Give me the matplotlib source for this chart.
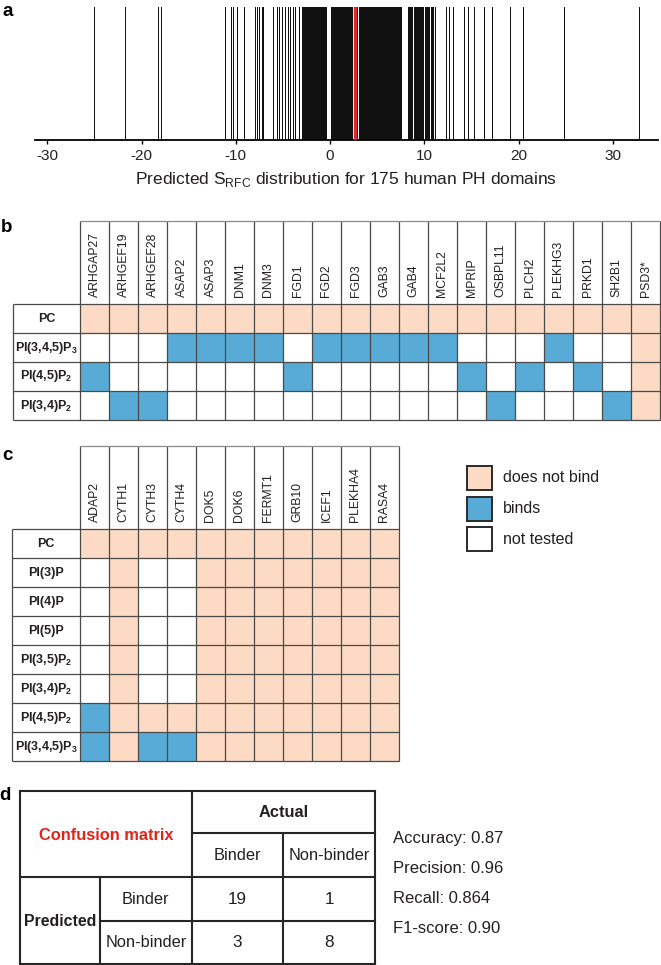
import numpy as np
import matplotlib
matplotlib.use('Agg')
import matplotlib.pyplot as plt
from matplotlib.colors import ListedColormap
from matplotlib.patches import Rectangle

plt.rcParams['font.family'] = 'Liberation Sans'
plt.rcParams['mathtext.fontset'] = 'custom'
plt.rcParams['mathtext.rm'] = 'Liberation Sans'
plt.rcParams['mathtext.bf'] = 'Liberation Sans:bold'

# ---------------------------------------------------------------- data
# panel a: predicted S_RFC for 175 human PH domains
s_rfc = [
    -25.0, -21.8, -18.2, -17.95, -11.1, -10.5, -10.3, -9.85, -9.13,
    -7.93, -7.79, -7.57, -7.22, -7.08, -6.09, -5.6, -5.38, -5.1, -4.74,
    -4.46, -4.25, -3.96, -3.68, -3.33,
    -2.95, -2.90, -2.84, -2.78, -2.66, -2.60, -2.55, -2.47, -2.38, -2.30,
    -2.25, -2.19, -2.11, -2.02, -1.97, -1.93, -1.85, -1.79, -1.74, -1.66,
    -1.58, -1.52, -1.47, -1.39, -1.31, -1.22, -1.17, -1.12, -1.04, -0.95,
    -0.90, -0.86, -0.77, -0.68, -0.63, -0.58, -0.49, -0.45, -0.41,
    0.12, 0.22, 0.35, 0.45, 0.52, 0.62, 0.71, 0.86, 0.94, 1.02, 1.18, 1.27,
    1.37, 1.46, 1.55, 1.68, 1.76, 1.84, 1.94, 2.03, 2.12, 2.21, 2.30, 2.38,
    2.72, 2.91, 3.06, 3.18, 3.29, 3.41, 3.45, 3.52, 3.63, 3.71, 3.82, 3.93,
    4.01, 4.12, 4.23, 4.31, 4.42, 4.50, 4.61, 4.70, 4.79, 4.88, 4.97, 5.06,
    5.15, 5.24, 5.32, 5.41, 5.50, 5.58, 5.67, 5.76, 5.84, 5.93, 6.02, 6.10,
    6.19, 6.28, 6.36, 6.45, 6.53, 6.62, 6.71, 6.80, 6.88, 6.97, 7.06, 7.15,
    7.24, 7.33, 7.42, 7.55,
    8.32, 8.41, 8.50, 8.63, 8.74, 8.86, 8.97, 9.08, 9.19, 9.31, 9.42, 9.55,
    9.66, 9.78, 9.91, 10.04, 10.16, 10.29, 10.41, 10.55, 10.68, 10.82,
    10.96, 11.15,
    12.3, 12.67, 13.0, 14.2, 14.6, 15.3, 16.35, 17.2, 19.1, 20.5, 24.8, 32.8,
]
threshold = 2.6
a_ticks = [-30, -20, -10, 0, 10, 20, 30]

# panel b / c: 'n' = does not bind, 'b' = binds, '.' = not tested
b_proteins = ['ARHGAP27', 'ARHGEF19', 'ARHGEF28', 'ASAP2', 'ASAP3', 'DNM1',
              'DNM3', 'FGD1', 'FGD2', 'FGD3', 'GAB3', 'GAB4', 'MCF2L2',
              'MPRIP', 'OSBPL11', 'PLCH2', 'PLEKHG3', 'PRKD1', 'SH2B1', 'PSD3*']
b_lipids = ['PC', r'$\mathregular{PI(3{,}4{,}5)P_3}$',
            r'$\mathregular{PI(4{,}5)P_2}$', r'$\mathregular{PI(3{,}4)P_2}$']
b_binding = ['nnnnnnnnnnnnnnnnnnnn',
             '...bbbb.bbbbb...b..n',
             'b......b.....b.b.b.n',
             '.bb...........b...bn']

c_proteins = ['ADAP2', 'CYTH1', 'CYTH3', 'CYTH4', 'DOK5', 'DOK6', 'FERMT1',
              'GRB10', 'ICEF1', 'PLEKHA4', 'RASA4']
c_lipids = ['PC', 'PI(3)P', 'PI(4)P', 'PI(5)P',
            r'$\mathregular{PI(3{,}5)P_2}$', r'$\mathregular{PI(3{,}4)P_2}$',
            r'$\mathregular{PI(4{,}5)P_2}$', r'$\mathregular{PI(3{,}4{,}5)P_3}$']
c_binding = ['nnnnnnnnnnn',
             '.n..nnnnnnn',
             '.n..nnnnnnn',
             '.n..nnnnnnn',
             '.n..nnnnnnn',
             '.n..nnnnnnn',
             'bnnnnnnnnnn',
             'bnbbnnnnnnn']

legend_labels = ['does not bind', 'binds', 'not tested']

# panel d
cm_classes = ['Binder', 'Non-binder']
cm_counts = [[19, 1],
             [3, 8]]
metrics = ['Accuracy: 0.87', 'Precision: 0.96', 'Recall: 0.864', 'F1-score: 0.90']

# ---------------------------------------------------------------- style
PEACH = '#fcdac3'
BLUE = '#59abd7'
TXT = '#231f20'
GRID = '#4a4a4a'
code_idx = {'n': 0, 'b': 1, '.': 2}
cmap = ListedColormap([PEACH, BLUE, 'white'])

W, H = 661, 965
fig = plt.figure(figsize=(W / 100, H / 100), dpi=100)


def px_axes(left, top, right, bottom):
    return fig.add_axes([left / W, 1 - bottom / H, (right - left) / W, (bottom - top) / H])


# ---------------------------------------------------------------- panel a
ax = px_axes(35, 6.7, 658, 140)
ax.vlines(s_rfc, 0, 1, transform=ax.get_xaxis_transform(), color='#111111',
          lw=0.72, antialiased=False)
ax.axvline(threshold, color='#e3262b', lw=2.4, zorder=3)
ax.set_xlim(-31.3, 34.8)
ax.set_ylim(0, 1)
for s in ['left', 'right', 'top']:
    ax.spines[s].set_visible(False)
ax.spines['bottom'].set_linewidth(1.3)
ax.set_yticks([])
ax.set_xticks(a_ticks)
ax.set_xticklabels([str(t) for t in a_ticks], fontsize=11, color=TXT)
ax.tick_params(axis='x', length=3, width=1, pad=3.5)
ax.set_xlabel(r'Predicted S$_\mathregular{RFC}$ distribution for 175 human PH domains',
              fontsize=12.5, color=TXT, labelpad=5)


# ---------------------------------------------------------------- panels b, c
def binding_table(box, proteins, lipids, binding):
    cell = 29.0
    left, top, right, bottom = box
    ncol, nrow = len(proteins), len(lipids)
    rw = (right - left - ncol * cell) / cell
    hh = (bottom - top - nrow * cell) / cell
    t = px_axes(left, top, right, bottom)
    t.set_xlim(-rw, ncol)
    t.set_ylim(nrow, -hh)
    t.axis('off')
    vals = np.array([[code_idx[c] for c in row] for row in binding])
    t.pcolormesh(np.arange(ncol + 1), np.arange(nrow + 1), vals, cmap=cmap,
                 vmin=0, vmax=2)
    kw = dict(color=GRID, lw=0.9, clip_on=False)
    t.vlines(np.arange(ncol + 1), -hh, nrow, **kw)
    t.vlines([-rw], 0, nrow, **kw)
    t.hlines(np.arange(nrow + 1), -rw, ncol, **kw)
    t.hlines([-hh], 0, ncol, color='#8a8a8a', lw=0.9, clip_on=False)
    for i, p in enumerate(proteins):
        t.text(i + 0.5, -0.25, p, rotation=90, ha='center', va='bottom',
               fontsize=8.8, color=TXT)
    for j, lab in enumerate(lipids):
        t.text(-rw / 2, j + 0.5, lab, ha='center', va='center', fontsize=9,
               fontweight='bold', color=TXT)
    return t


binding_table((13, 220.7, 660, 420), b_proteins, b_lipids, b_binding)
binding_table((12, 446, 399, 761.3), c_proteins, c_lipids, c_binding)

# full-figure pixel axes for legend, panel d and panel letters
ov = fig.add_axes([0, 0, 1, 1])
ov.set_xlim(0, W)
ov.set_ylim(H, 0)
ov.axis('off')

for k, (lab, col) in enumerate(zip(legend_labels, [PEACH, BLUE, 'white'])):
    y0 = 465.7 + k * 30.8
    ov.add_patch(Rectangle((466.7, y0), 25, 24, facecolor=col, edgecolor='#2a2a2a', lw=1.4))
    ov.text(502.7, y0 + 12, lab, ha='left', va='center', fontsize=11.5, color=TXT)

# ---------------------------------------------------------------- panel d
lk = dict(color='#262626', lw=1.5, capstyle='projecting')
ov.hlines([791, 876.7, 963.5], 20, 375, **lk)
ov.hlines([833.3], 191.7, 375, **lk)
ov.hlines([921], 100, 375, **lk)
ov.vlines([20, 191.7, 375], 791, 963.5, **lk)
ov.vlines([100], 876.7, 963.5, **lk)
ov.vlines([283.3], 833.3, 963.5, **lk)

col_x = [237.5, 329.2]
row_y = [899, 942.7]
fs = 11.8
ov.text(105.8, 835, 'Confusion matrix', ha='center', va='center', fontsize=fs,
        fontweight='bold', color='#e2231a')
ov.text(283.3, 812.5, 'Actual', ha='center', va='center', fontsize=fs,
        fontweight='bold', color=TXT)
ov.text(60, 921, 'Predicted', ha='center', va='center', fontsize=fs - 0.4,
        fontweight='bold', color=TXT)
for i, name in enumerate(cm_classes):
    ov.text(col_x[i], 856, name, ha='center', va='center', fontsize=fs,
            color=TXT)
    ov.text(145.8, row_y[i], name, ha='center', va='center', fontsize=fs,
            color=TXT)
    for j in range(2):
        ov.text(col_x[j], row_y[i], str(cm_counts[i][j]), ha='center',
                va='center', fontsize=fs + 0.5, color=TXT)
for k, m in enumerate(metrics):
    ov.text(392.7, 838.3 + 30 * k, m, ha='left', va='center', fontsize=12,
            color=TXT)

# panel letters
for letter, (x, y) in zip('abcd', [(8, 12), (7, 227), (7, 455), (5, 795)]):
    ov.text(x, y, letter, ha='center', va='center', fontsize=13.5,
            fontweight='bold', color='black')

fig.savefig('out.png', dpi=100)
